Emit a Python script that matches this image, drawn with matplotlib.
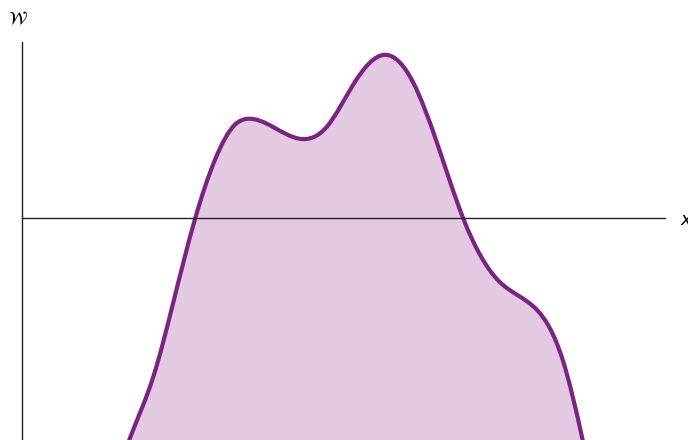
import numpy as np
import matplotlib
matplotlib.use("Agg")
import matplotlib.pyplot as plt
from matplotlib.path import Path
from matplotlib.patches import PathPatch

# --- data ---
xs = [1.60, 1.68, 2.04, 2.35, 2.69, 3.00, 3.31, 3.51, 3.90, 4.32, 4.74, 5.15, 5.65,
      6.08, 6.45, 6.86, 7.43, 8.01, 8.41, 8.71, 8.76]
ys = [-5.85, -5.50, -3.98, -2.13, -0.03, 1.45, 2.33, 2.48, 2.28, 1.98, 2.28, 3.33, 4.08,
      3.40, 1.90, 0.00, -1.60, -2.30, -3.55, -5.48, -5.85]

line_col = "#7a2481"
fill_col = "#e3cae2"


# natural cubic spline through the points, drawn as bezier segments
def smooth_path(px, py):
    x = np.asarray(px, float)
    y = np.asarray(py, float)
    n = len(x)
    h = np.diff(x)
    d = np.diff(y) / h
    A = np.zeros((n, n))
    b = np.zeros(n)
    A[0, 0] = A[-1, -1] = 1
    for i in range(1, n - 1):
        A[i, i - 1] = h[i - 1]
        A[i, i] = 2 * (h[i - 1] + h[i])
        A[i, i + 1] = h[i]
        b[i] = 6 * (d[i] - d[i - 1])
    M = np.linalg.solve(A, b)
    m = np.empty(n)
    m[:-1] = d - h * (2 * M[:-1] + M[1:]) / 6
    m[-1] = d[-1] + h[-1] * (M[-2] + 2 * M[-1]) / 6
    verts = [(x[0], y[0])]
    codes = [Path.MOVETO]
    for i in range(n - 1):
        verts += [(x[i] + h[i] / 3, y[i] + m[i] * h[i] / 3),
                  (x[i + 1] - h[i] / 3, y[i + 1] - m[i + 1] * h[i] / 3),
                  (x[i + 1], y[i + 1])]
        codes += [Path.CURVE4] * 3
    return np.array(verts), codes


fig = plt.figure(figsize=(6.88, 4.4), dpi=100)
ax = fig.add_axes([0, 0, 1, 1])
ax.set_xlim(-0.342, 10.358)
ax.set_ylim(-5.55, 5.45)

verts, codes = smooth_path(xs, ys)
fill_verts = np.vstack([verts, [[xs[-1], -6], [xs[0], -6], verts[0]]])
fill_codes = codes + [Path.LINETO, Path.LINETO, Path.CLOSEPOLY]
ax.add_patch(PathPatch(Path(fill_verts, fill_codes), facecolor=fill_col, lw=0, zorder=1))
ax.add_patch(PathPatch(Path(verts, codes), facecolor="none", edgecolor=line_col,
                       lw=3, zorder=2))

# axes as simple lines
ax.plot([0, 10], [0, 0], color="#222222", lw=1, zorder=3)
ax.plot([0, 0], [-6, 4.4], color="#222222", lw=1, zorder=3)

ax.text(-0.06, 4.97, r"$\mathcal{W}$", fontsize=13, ha="center", va="center")
ax.text(10.33, -0.05, r"$x$", fontsize=13, ha="center", va="center")

ax.axis("off")
fig.savefig("out.png", dpi=100)
